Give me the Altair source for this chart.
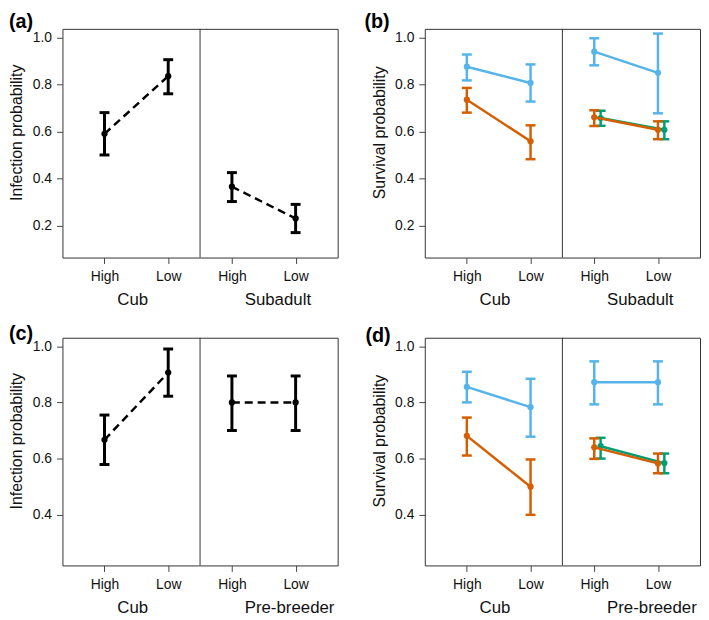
import altair as alt
import pandas as pd

FONT = "Liberation Sans"

# ---------------- data ----------------
positions = [1, 2, 3, 4]
density = ["High", "Low", "High", "Low"]

# Panel (a) infection probability
a_stage = ["Cub", "Cub", "Subadult", "Subadult"]
a_est = [0.590, 0.835, 0.365, 0.230]
a_lo = [0.500, 0.760, 0.302, 0.170]
a_hi = [0.680, 0.905, 0.425, 0.290]

# Panel (c) infection probability
c_stage = ["Cub", "Cub", "Pre-breeder", "Pre-breeder"]
c_est = [0.667, 0.906, 0.800, 0.800]
c_lo = [0.579, 0.822, 0.700, 0.700]
c_hi = [0.755, 0.990, 0.894, 0.894]

# Panel (b) survival probability
b_stage = ["Cub", "Cub", "Subadult", "Subadult"]
b_blue_est = [0.875, 0.806, 0.939, 0.849]
b_blue_lo = [0.817, 0.727, 0.881, 0.677]
b_blue_hi = [0.927, 0.885, 0.996, 1.016]
b_orange_est = [0.735, 0.558, 0.660, 0.607]
b_orange_lo = [0.680, 0.482, 0.623, 0.567]
b_orange_hi = [0.785, 0.626, 0.690, 0.643]
b_green_est = [None, None, 0.657, 0.607]
b_green_lo = [None, None, 0.624, 0.567]
b_green_hi = [None, None, 0.688, 0.643]

# Panel (d) survival probability
d_stage = ["Cub", "Cub", "Pre-breeder", "Pre-breeder"]
d_blue_est = [0.855, 0.783, 0.872, 0.872]
d_blue_lo = [0.800, 0.678, 0.793, 0.793]
d_blue_hi = [0.909, 0.884, 0.946, 0.946]
d_orange_est = [0.681, 0.500, 0.640, 0.583]
d_orange_lo = [0.611, 0.400, 0.599, 0.548]
d_orange_hi = [0.746, 0.597, 0.672, 0.618]
d_green_est = [None, None, 0.644, 0.584]
d_green_lo = [None, None, 0.600, 0.548]
d_green_hi = [None, None, 0.674, 0.618]

series_colors = {"black": "#000000", "blue": "#56B4E9", "orange": "#D55E00", "green": "#009E73"}
DODGE = {"green": 0.1}
LABEL_SHIFT = 0.2
XDOM = [0.34, 4.66]
W = 278


def make_df(stage, series):
    rows = []
    for key, (est, lo, hi) in series.items():
        for i in range(len(positions)):
            if est[i] is None:
                continue
            rows.append(dict(series=key, stage=stage[i], density=density[i],
                             x=positions[i] + DODGE.get(key, 0.0),
                             est=est[i], lo=lo[i], hi=hi[i]))
    return pd.DataFrame(rows)


label_expr = "[" + ",".join("'%s'" % d for d in density) + "][datum.value - 1]"


def panel(df, stage, order, ytitle, ydom, yticks, h, tag, tag_x, tag_y, dashed, lw_line, lw_err):
    xaxis = alt.Axis(values=positions, labelExpr=label_expr, title=None, labelPadding=6,
                     labelFlush=False, labelOverlap=False)
    yaxis = alt.Axis(values=yticks, format=".1f", title=ytitle, titleX=-38, titleY=h / 2 - 11,
                     labelPadding=5, labelFlush=False, labelOverlap=False)
    xs = alt.Scale(domain=XDOM, nice=False, zero=False)
    ys = alt.Scale(domain=ydom, nice=False, zero=False)
    X = alt.X("x:Q", scale=xs, axis=xaxis)

    def Yf(f):
        return alt.Y(f + ":Q", scale=ys, axis=yaxis)

    layers = []
    div_df = pd.DataFrame({"x": [(positions[1] + positions[2]) / 2]})
    layers.append(alt.Chart(div_df).mark_rule(color="#333333", strokeWidth=1).encode(x=X))
    for s in order:
        sdf = df[df.series == s]
        col = series_colors[s]
        base = alt.Chart(sdf)
        layers.append(base.mark_rule(color=col, strokeWidth=lw_err).encode(x=X, y=Yf("lo"), y2="hi:Q"))
        layers.append(base.mark_tick(orient="horizontal", color=col, size=10, thickness=lw_err,
                                     opacity=1).encode(x=X, y=Yf("lo")))
        layers.append(base.mark_tick(orient="horizontal", color=col, size=10, thickness=lw_err,
                                     opacity=1).encode(x=X, y=Yf("hi")))
        lk = dict(color=col, strokeWidth=lw_line)
        if dashed:
            lk["strokeDash"] = [8, 5]
        layers.append(base.mark_line(**lk).encode(x=X, y=Yf("est"), detail="stage:N"))
        layers.append(base.mark_circle(color=col, size=40, opacity=1).encode(x=X, y=Yf("est")))
    groups = []
    for i, st in enumerate(stage):
        if st not in [g[0] for g in groups]:
            groups.append((st, positions[i] + LABEL_SHIFT))
    gdf = pd.DataFrame({"label": [g[0] for g in groups], "x": [g[1] for g in groups]})
    layers.append(alt.Chart(gdf).mark_text(align="left", baseline="top", fontSize=17, font=FONT,
                                           color="#111111").encode(x=X, y=alt.value(h + 35), text="label:N"))
    tdf = pd.DataFrame({"t": [tag]})
    layers.append(alt.Chart(tdf).mark_text(align="left", baseline="top", fontSize=20, font=FONT,
                                           fontWeight="bold", color="#000000").encode(
        x=alt.value(tag_x), y=alt.value(tag_y), text="t:N"))
    return alt.layer(*layers).properties(width=W, height=h)


df_a = make_df(a_stage, {"black": (a_est, a_lo, a_hi)})
df_c = make_df(c_stage, {"black": (c_est, c_lo, c_hi)})
df_b = make_df(b_stage, {"blue": (b_blue_est, b_blue_lo, b_blue_hi),
                         "orange": (b_orange_est, b_orange_lo, b_orange_hi),
                         "green": (b_green_est, b_green_lo, b_green_hi)})
df_d = make_df(d_stage, {"blue": (d_blue_est, d_blue_lo, d_blue_hi),
                         "orange": (d_orange_est, d_orange_lo, d_orange_hi),
                         "green": (d_green_est, d_green_lo, d_green_hi)})

pa = panel(df_a, a_stage, ["black"], "Infection probability", [0.064, 1.036], [0.2, 0.4, 0.6, 0.8, 1.0],
           231, "(a)", -54, -17, True, 2.5, 3)
pb = panel(df_b, b_stage, ["green", "blue", "orange"], "Survival probability", [0.064, 1.036],
           [0.2, 0.4, 0.6, 0.8, 1.0], 231, "(b)", -61, -17, False, 2.5, 2.5)
pc = panel(df_c, c_stage, ["black"], "Infection probability", [0.22, 1.03], [0.4, 0.6, 0.8, 1.0],
           230, "(c)", -54, -14, True, 2.5, 3)
pd_ = panel(df_d, d_stage, ["green", "blue", "orange"], "Survival probability", [0.22, 1.03],
            [0.4, 0.6, 0.8, 1.0], 230, "(d)", -60, -12, False, 2.5, 2.5)

chart = alt.concat(pa, pb, pc, pd_, columns=2, spacing=alt.RowColnumber(row=81, column=88),
                   bounds="flush").properties(
    padding={"left": 0, "top": 0, "right": 0, "bottom": -4}
).configure_view(stroke="#333333", strokeWidth=1).configure_axis(
    labelFont=FONT, titleFont=FONT, labelFontSize=14, titleFontSize=16, titleFontWeight="normal",
    labelColor="#111111", titleColor="#111111", tickColor="#444444", tickSize=6, domain=False, grid=False
)

chart.save("out.html", embed_options={"renderer": "svg", "actions": False})
